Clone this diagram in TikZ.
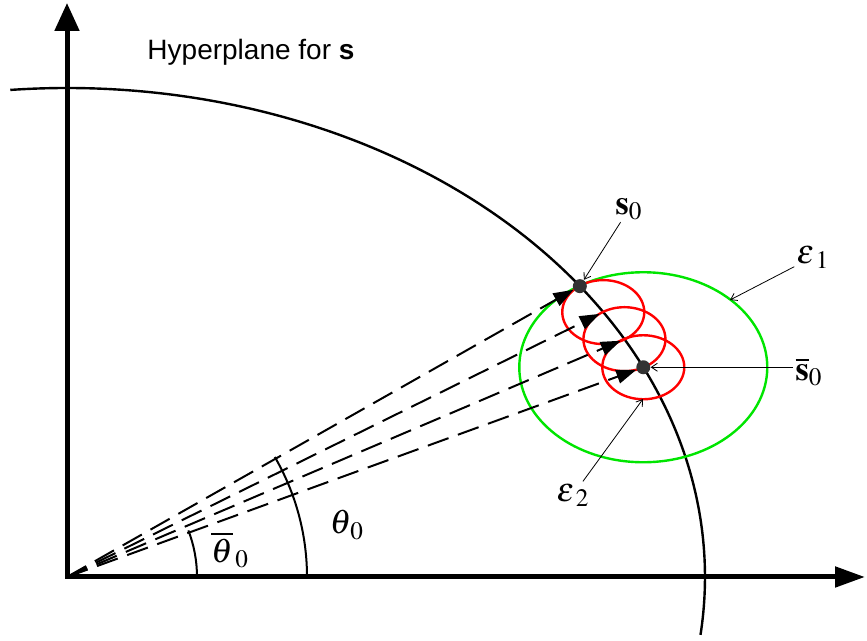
\documentclass[tikz,border=0pt]{standalone}
\usepackage{mathptmx}
\usepackage[no-math]{fontspec}
\setsansfont{Liberation Sans}
\usetikzlibrary{arrows.meta}

\begin{document}
\begin{tikzpicture}[
  x=0.5pt, y=0.5pt,
  axis/.style={line width=2.5pt, {Triangle[length=14pt, width=12pt]}-{Triangle[length=15pt, width=10pt]}},
  ray/.style={line width=1pt, dash pattern=on 11pt off 5pt, -{Triangle[length=10pt, width=7pt]}},
  lead/.style={line width=0.4pt, -{Straight Barb[length=3pt, width=4pt]}},
  dot/.style={circle, fill=black!80, inner sep=0pt, minimum size=7pt},
  lab/.style={inner sep=1pt, font=\fontsize{17}{20}\selectfont},
  angarc/.style={line width=1pt}
]
\useasboundingbox (-67,-64) rectangle (800,577);

% axes and the hyperplane
\coordinate (O) at (0,0);
\coordinate (ytip) at (0,574);
\coordinate (xtip) at (798,0);
\draw[axis] (ytip) |- (xtip);
\draw[line width=1.2pt] (O) ++(95.1:638 and 489) arc[start angle=95.1, end angle=-6.8, x radius=638, y radius=489];
\node[font=\sffamily\fontsize{14}{16}\selectfont] (hyp) at (184,525) {Hyperplane for \textbf{s}};

% uncertainty regions
\coordinate (c1) at (32.8:638 and 489);
\coordinate (c2) at (29.1:638 and 489);
\coordinate (c3) at (25.4:638 and 489);
\draw[green!90!black, line width=1.2pt] (c3) ellipse[x radius=124, y radius=95];
\foreach \c in {c1, c2, c3}
  \draw[red, line width=1.2pt] (\c) ellipse[x radius=41, y radius=32];

% points on the hyperplane
\node[dot] (s0) at (36.5:638 and 489) {};
\node[dot] (sb) at (c3) {};

% rays from the origin
\draw[ray] (O) -- (s0);
\draw[ray, shorten >=2pt] (O) -- (c1);
\draw[ray, shorten >=2pt] (O) -- (c2);
\draw[ray] (O) -- (sb);

% angles
\draw[angarc] (130,0) arc[start angle=0, end angle=21, radius=130];
\draw[angarc] (240,0) arc[start angle=0, end angle=30, radius=240];
\node[lab] (thb) at (163,27) {$\overline{\theta}_{\mkern2mu 0}$};
\node[lab] (th) at (280,52) {$\theta_{\mkern2mu 0}$};

% labels
\node[lab] (s0lab) at (562,368) {$\mathbf{s}_0$};
\node[lab] (e1lab) at (746,320) {$\varepsilon_{\mkern3mu 1}$};
\node[lab] (sblab) at (742,205) {$\overline{\mathbf{s}}_0$};
\node[lab] (e2lab) at (506,82) {$\varepsilon_{\mkern3mu 2}$};
\coordinate (e1pt) at (663,277);
\coordinate (e2pt) at (576,178);

\draw[lead] (s0lab) -- (s0);
\draw[lead] (e1lab) -- (e1pt);
\draw[lead] (sblab.west |- sb) -- (sb);
\draw[lead] (e2lab) -- (e2pt);
\end{tikzpicture}
\end{document}
